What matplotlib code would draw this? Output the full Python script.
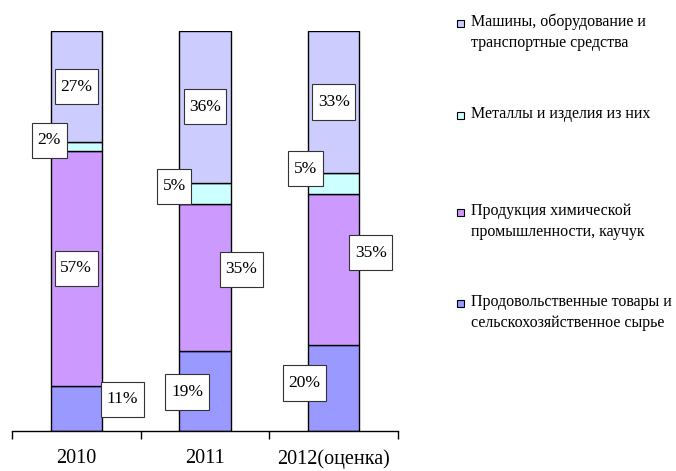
import matplotlib.pyplot as plt
from matplotlib.patches import Rectangle
from matplotlib.path import Path
import numpy as np

plt.rcParams['font.family'] = ['Liberation Serif', 'DejaVu Serif']

# data (% of exports), stacked bottom -> top
years = ['2010', '2011', '2012(оценка)']
food = [11, 19, 20]
chem = [57, 35, 35]
metal = [2, 5, 5]
mach = [27, 36, 33]

names = ['Продовольственные товары и\nсельскохозяйственное сырье',
         'Продукция химической\nпромышленности, каучук',
         'Металлы и изделия из них',
         'Машины, оборудование и\nтранспортные средства']
colors = ['#9999FF', '#CC99FF', '#CCFFFF', '#CCCCFF']

# label placement: (dx in bar units, dy in pixels up) per series, per year
offsets = [
    [(0.36, 9), (-0.14, -1), (-0.23, 5)],
    [(0.0, 0), (0.28, 8), (0.29, 17)],
    [(-0.21, 6), (-0.24, 7), (-0.22, 15)],
    [(0.0, 0), (0.0, 0), (0.0, 0)],
]


def tallbox(x0, y0, width, height, mutation_size):
    # box with more padding above/below than at the sides
    px = 0.32 * mutation_size
    py = 0.55 * mutation_size
    x0, y0 = x0 - px, y0 - py
    x1, y1 = x0 + width + 2 * px, y0 + height + 2 * py
    return Path([(x0, y0), (x1, y0), (x1, y1), (x0, y1), (x0, y0)],
                closed=True)


series = np.array([food, chem, metal, mach], dtype=float)
share = series / series.sum(axis=0)

fig = plt.figure(figsize=(6.76, 4.71), dpi=100)
ax = fig.add_axes([12/676, 40/471, 386/676, 400/471])

x = np.arange(len(years))
bottom = np.zeros(len(years))
for i in range(len(series)):
    ax.bar(x, share[i], 0.4, bottom=bottom, color=colors[i],
           edgecolor='black', linewidth=1.0)
    for j in range(len(years)):
        dx, dy = offsets[i][j]
        ax.annotate('%d%%' % series[i][j],
                    xy=(x[j] + dx, bottom[j] + share[i][j] / 2),
                    xytext=(0, dy), textcoords='offset pixels',
                    ha='center', va='center', fontsize=12.5,
                    bbox=dict(boxstyle=tallbox, fc='white',
                              ec='#333333', lw=0.8))
    bottom += share[i]

ax.set_xlim(-0.5, 2.5)
ax.set_ylim(0, 1)
for s in ['left', 'right', 'top']:
    ax.spines[s].set_visible(False)
ax.spines['bottom'].set_linewidth(1.0)
ax.set_yticks([])
ax.set_xticks(x)
ax.set_xticklabels(years, fontsize=14.5)
ax.tick_params(axis='x', which='major', length=0, pad=13)
ax.set_xticks([-0.5, 0.5, 1.5, 2.5], minor=True)
ax.tick_params(axis='x', which='minor', length=6, width=1.0, direction='out')

# legend, drawn by hand to keep Excel-like spacing
leg_y = [303, 212, 115, 23]
for i in range(len(names)):
    yf = 1 - leg_y[i] / 471
    fig.patches.append(Rectangle((457/676, yf - 3.5/471), 7/676, 7/471,
                                 transform=fig.transFigure, fc=colors[i],
                                 ec='black', lw=0.8))
    fig.text(471/676, yf + 9/471, names[i], fontsize=11.5, va='top',
             ha='left', linespacing=1.4)

fig.savefig('out.png', dpi=100)
